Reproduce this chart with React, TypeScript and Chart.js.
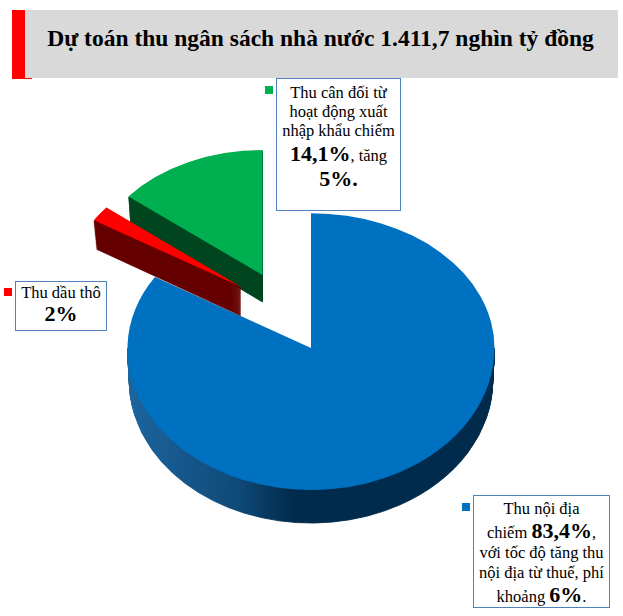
import React, { useEffect, useRef } from "react";
import { Chart, registerables } from "chart.js";

Chart.register(...registerables);

const categories = ["Thu nội địa", "Thu dầu thô", "Thu cân đối từ hoạt động xuất nhập khẩu"];
const shares = [83.4, 2, 14.1];
const topColors = ["#0070c0", "#ff0000", "#00b050"];
const sideColors = ["#002b4c", "#660000", "#00461f"];

// slice placement in pixels: where the tip lands, how it is squashed, and its thickness
const placement: any[] = [
  { x: 311, y: 348, sx: 1, sy: 0.735, syLow: 0.774, depth: 33, taper: 0.0003 },
  { x: 240.5, y: 286.5, sx: 0.94, sy: 0.685, depth: 29, taper: 0.0007 },
  { x: 262.5, y: 275, sx: 0.94, sy: 0.681, depth: 27, taper: 0.0005 },
];
const drawOrder = [0, 2, 1];

const pie3d = {
  id: "pie3d",
  beforeDatasetsDraw(chart: any) {
    const ctx = chart.ctx;
    const arcs = chart.getDatasetMeta(0).data;
    drawOrder.forEach((i) => {
      const arc = arcs[i];
      const p = placement[i];
      const orig = arc.options;
      const stamp = (d: number, fill: any, sy: number, clip?: "up" | "down") => {
        ctx.save();
        if (clip) {
          ctx.beginPath();
          if (clip === "up") ctx.rect(0, 0, chart.width, p.y);
          else ctx.rect(0, p.y, chart.width, chart.height - p.y);
          ctx.clip();
        }
        ctx.translate(p.x, p.y + d);
        ctx.scale(p.sx * (1 - d * p.taper), sy);
        ctx.translate(-arc.x, -arc.y);
        arc.options =
          d > 0
            ? { ...orig, backgroundColor: fill, borderColor: fill, borderWidth: 1, borderAlign: "center" }
            : { ...orig, backgroundColor: fill };
        arc.draw(ctx);
        ctx.restore();
      };
      let side: any = sideColors[i];
      if (i === 0) {
        const g = ctx.createLinearGradient(arc.x - arc.outerRadius, 0, arc.x + arc.outerRadius, 0);
        g.addColorStop(0, "#1c659f");
        g.addColorStop(0.3, "#0f4a78");
        g.addColorStop(0.45, "#002b4c");
        g.addColorStop(1, "#002b4c");
        side = g;
      }
      if (p.syLow) {
        for (let d = p.depth; d > 0; d--) stamp(d, side, p.syLow, "down");
        stamp(0, orig.backgroundColor, p.sy, "up");
        stamp(0, orig.backgroundColor, p.syLow, "down");
      } else {
        for (let d = p.depth; d > 0; d--) stamp(d, side, p.sy);
        stamp(0, orig.backgroundColor, p.sy);
      }
      arc.options = orig;
    });
    return false;
  },
};

const leader = {
  id: "leader",
  afterDatasetsDraw(chart: any) {
    const ctx = chart.ctx;
    ctx.save();
    ctx.strokeStyle = "#000";
    ctx.lineWidth = 1;
    ctx.beginPath();
    ctx.moveTo(403, 505);
    ctx.lineTo(443, 544.5);
    ctx.lineTo(452, 544.5);
    ctx.stroke();
    ctx.restore();
  },
};

const serif = '"Liberation Serif", "Times New Roman", serif';
const border = "1px solid #4f81bd";

function Box(props: { l: number; t: number; r: number; b: number; pad: number; children: any }) {
  return (
    <div
      style={{
        position: "absolute",
        left: props.l,
        top: props.t,
        width: props.r - props.l,
        height: props.b - props.t,
        boxSizing: "border-box",
        border,
        paddingTop: props.pad,
        background: "#fff",
        textAlign: "center",
        fontFamily: serif,
        fontSize: 16.5,
        color: "#000",
        whiteSpace: "nowrap",
      }}
    >
      {props.children}
    </div>
  );
}

function Marker(props: { l: number; t: number; c: string }) {
  return (
    <div style={{ position: "absolute", left: props.l, top: props.t, width: 8, height: 8, background: props.c }} />
  );
}

const B = (props: { children: any; size?: number }) => (
  <b style={{ fontSize: props.size ?? 22 }}>{props.children}</b>
);
const L = (props: { h: number; children: any }) => <div style={{ height: props.h, lineHeight: props.h + "px" }}>{props.children}</div>;

export default function App() {
  const ref = useRef<HTMLCanvasElement>(null);
  useEffect(() => {
    const chart = new Chart(ref.current!, {
      type: "pie",
      data: {
        labels: categories,
        datasets: [{ data: shares, backgroundColor: topColors, borderWidth: 0 }],
      },
      options: {
        responsive: false,
        animation: false,
        layout: { padding: { left: 128, right: 128, top: 100, bottom: 149 } },
        plugins: { legend: { display: false }, tooltip: { enabled: false } },
      },
      plugins: [pie3d, leader],
    } as any);
    return () => chart.destroy();
  }, []);
  return (
    <div style={{ position: "fixed", left: 0, top: 0, width: 623, height: 616, background: "#fff", overflow: "hidden" }}>
      <canvas ref={ref} width={623} height={616} style={{ position: "absolute", left: 0, top: 0, display: "block" }} />
      <div style={{ position: "absolute", left: 12, top: 10, width: 20, height: 69, background: "#ff0000" }} />
      <div style={{ position: "absolute", left: 25, top: 10, width: 593, height: 68, background: "#d9d9d9" }} />
      <div
        style={{
          position: "absolute",
          left: 25,
          top: 10,
          width: 591,
          height: 68,
          fontFamily: serif,
          fontWeight: "bold",
          fontSize: 23.5,
          lineHeight: "56px",
          textAlign: "center",
          color: "#000",
          whiteSpace: "nowrap",
        }}
      >
        Dự toán thu ngân sách nhà nước 1.411,7 nghìn tỷ đồng
      </div>

      <Marker l={265} t={86} c="#00b050" />
      <Box l={276} t={78} r={401} b={211} pad={4}>
        <L h={19}>Thu cân đối từ</L>
        <L h={19}>hoạt động xuất</L>
        <L h={19}>nhập khẩu chiếm</L>
        <L h={27}><B>14,1%</B>, tăng</L>
        <L h={24}><B>5%.</B></L>
      </Box>

      <Marker l={4} t={288} c="#ff0000" />
      <Box l={15} t={281} r={107} b={331} pad={0}>
        <L h={22}>Thu dầu thô</L>
        <L h={20}><B>2%</B></L>
      </Box>

      <Marker l={462} t={503} c="#0070c0" />
      <Box l={473} t={495} r={610} b={608} pad={3}>
        <L h={20}>Thu nội địa</L>
        <L h={24}>chiếm <B>83,4%</B>,</L>
        <L h={20}>với tốc độ tăng thu</L>
        <L h={20}>nội địa từ thuế, phí</L>
        <L h={24}>khoảng <B>6%</B>.</L>
      </Box>
    </div>
  );
}
